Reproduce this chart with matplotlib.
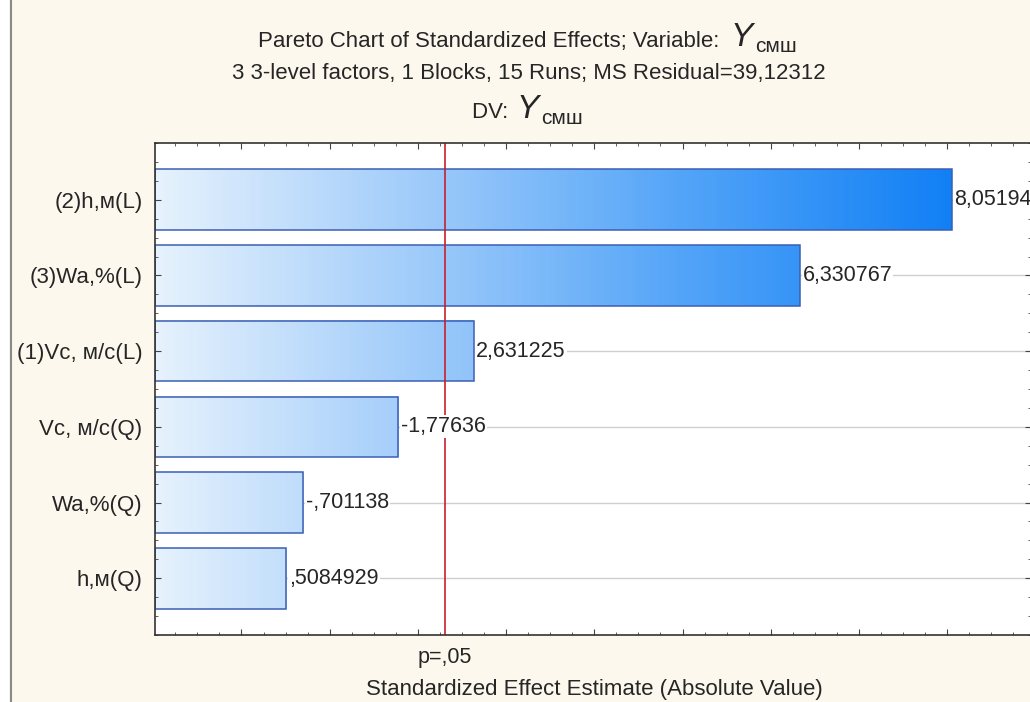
import numpy as np
import matplotlib
matplotlib.use("Agg")
import matplotlib.pyplot as plt
from matplotlib.colors import LinearSegmentedColormap, Normalize
from matplotlib.ticker import MultipleLocator
from matplotlib.patches import Rectangle
from matplotlib.lines import Line2D
from matplotlib.transforms import blended_transform_factory

# ---- data ----
factors = ["(2)h,м(L)", "(3)Wa,%(L)", "(1)Vc, м/с(L)", "Vc, м/с(Q)", "Wa,%(Q)", "h,м(Q)"]
effects = [8.05194, 6.330767, 2.631225, -1.77636, -0.701138, 0.5084929]
t_crit = 2.306004
p_label = "p=,05"
title1 = "Pareto Chart of Standardized Effects; Variable: "
title2 = "3 3-level factors, 1 Blocks, 15 Runs; MS Residual=39,12312"
title3 = "DV: "
var_main = "Y"
var_sub = "смш"
xlabel = "Standardized Effect Estimate (Absolute Value)"

def fmt(v):
    s = "{:.7g}".format(v)
    if abs(v) < 1:
        s = s.replace("-0.", "-.") if v < 0 else s.replace("0.", ".", 1)
    return s.replace(".", ",")

plt.rcParams['font.family'] = ['Liberation Sans', 'DejaVu Sans']
W, H = 1030, 702
fig = plt.figure(figsize=(W / 100, H / 100), dpi=100, facecolor='#fdf8ee')

def fx(px):
    return px / W

def fy(py):
    return 1 - py / H

TXT = '#262626'

# left frame strip
fig.patches.append(Rectangle((0, 0), fx(9), 1, transform=fig.transFigure,
                             facecolor='white', edgecolor='none', zorder=0))
fig.lines.append(Line2D([fx(10.5), fx(10.5)], [0, 1], transform=fig.transFigure,
                        color='#8a8a8a', lw=1.5))

ax = fig.add_axes([fx(155), fy(635), fx(1031) - fx(155), fy(143) - fy(635)])
ax.set_facecolor('white')

xmin, xmax = -0.98, 8.95
n = len(factors)

absvals = np.abs(np.array(effects))
cmap = LinearSegmentedColormap.from_list("g", ["#e6f2fd", "#9fcbfa", "#52a4f8", "#1280f5"])
norm = Normalize(vmin=xmin, vmax=absvals.max())
h = 0.8
y = np.arange(n)

for yi in y:
    ax.axhline(yi, color='#cfcfcf', lw=1, zorder=0.5)

for yi, v in zip(y, absvals):
    grad = np.linspace(xmin, v, 256).reshape(1, -1)
    ax.imshow(grad, cmap=cmap, norm=norm, aspect='auto',
              extent=[xmin, v, yi + h / 2, yi - h / 2], zorder=1, interpolation='bilinear')
ax.barh(y, absvals - xmin, left=xmin, height=h, fill=False,
        edgecolor='#3b5fb5', lw=1.1, zorder=2)
ax.set_xlim(xmin, xmax)
ax.set_ylim(n - 0.25, -0.75)

for yi, v, e in zip(y, absvals, effects):
    ax.text(v + 0.03, yi, fmt(e), ha='left', va='center', fontsize=15.5,
            color=TXT, zorder=3, clip_on=False,
            bbox=dict(boxstyle='square,pad=0.05', facecolor='white', edgecolor='none'))

ax.axvline(t_crit, color='#c8202c', lw=1.2, zorder=2.5)

ax.set_yticks(y)
ax.set_yticklabels(factors, fontsize=16, color=TXT)
ax.yaxis.set_minor_locator(MultipleLocator(0.25))
ax.xaxis.set_major_locator(MultipleLocator(1))
ax.xaxis.set_minor_locator(MultipleLocator(0.25))
ax.tick_params(axis='both', which='both', direction='in', top=True, right=True,
               color='#444444')
ax.tick_params(axis='x', which='major', length=4, labelbottom=False)
ax.tick_params(axis='x', which='minor', length=2.5)
ax.tick_params(axis='y', which='major', length=4, pad=9)
ax.tick_params(axis='y', which='minor', length=2.5)
for s in ax.spines.values():
    s.set_color('#333333')
    s.set_linewidth(1.2)

ptrans = blended_transform_factory(ax.transData, fig.transFigure)
ax.text(t_crit, fy(657), p_label, transform=ptrans, ha='center',
        va='center', fontsize=15.5, color=TXT, clip_on=False)

fig.text(fx(594), fy(690), xlabel, ha='center', va='center', fontsize=16, color=TXT)

# titles
fig.text(fx(726), fy(41), title1, ha='right', va='center', fontsize=16, color=TXT)
fig.text(fx(731), fy(38), var_main, ha='left', va='center', fontsize=24, style='italic', color=TXT)
fig.text(fx(755), fy(47), var_sub, ha='left', va='center', fontsize=15, color=TXT)
fig.text(fx(529), fy(74), title2, ha='center', va='center', fontsize=16, color=TXT)
fig.text(fx(514), fy(113), title3, ha='right', va='center', fontsize=16, color=TXT)
fig.text(fx(517), fy(110), var_main, ha='left', va='center', fontsize=24, style='italic', color=TXT)
fig.text(fx(541), fy(119), var_sub, ha='left', va='center', fontsize=15, color=TXT)

fig.savefig("out.png", dpi=100, facecolor=fig.get_facecolor())
